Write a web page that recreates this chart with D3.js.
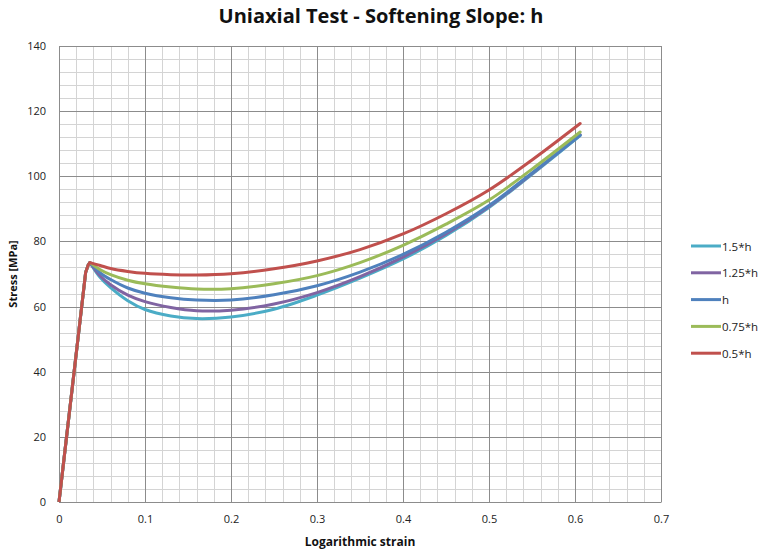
<!DOCTYPE html>
<html><head><meta charset="utf-8">
<script src="https://cdn.jsdelivr.net/npm/d3@7"></script>
<style>body{margin:0;background:#fff}svg{display:block}</style>
</head><body>
<svg id="c" width="765" height="555"></svg>
<script>
const seriesNames = ["1.5*h","1.25*h","h","0.75*h","0.5*h"];
const seriesColors = ["#4BACC6","#8064A2","#4F81BD","#9BBB59","#C0504D"];
const elasticStrain = [0, 0.031, 0.034, 0.036];
const elasticStress = [0, 70.5, 72.8, 73.5];
const strainPts    = [0.036, 0.048, 0.06, 0.08, 0.1, 0.13, 0.16, 0.2, 0.25, 0.3, 0.35, 0.4, 0.45, 0.5, 0.55, 0.606];
const stress_1_5h  = [73.5, 68.9, 65.8, 61.8, 59.1, 57.1, 56.3, 56.8, 59.2, 63.5, 68.7, 74.6, 81.8, 90.4, 100.6, 112.5];
const stress_1_25h = [73.5, 69.4, 66.7, 63.5, 61.5, 59.7, 58.7, 58.9, 60.8, 64.3, 69.2, 75.2, 82.3, 90.7, 100.8, 112.8];
const stress_h     = [73.5, 70.3, 68.3, 65.7, 64.1, 62.7, 62.0, 62.0, 63.6, 66.4, 70.6, 76.0, 82.8, 91.0, 101.0, 112.6];
const stress_075h  = [73.5, 71.3, 69.8, 68.1, 67.0, 66.0, 65.4, 65.5, 67.0, 69.5, 73.5, 78.8, 85.3, 92.7, 102.2, 113.6];
const stress_05h   = [73.5, 72.6, 71.7, 70.8, 70.2, 69.8, 69.7, 70.1, 71.6, 74.0, 77.5, 82.3, 88.5, 95.8, 105.0, 116.2];
const allStress = [stress_1_5h, stress_1_25h, stress_h, stress_075h, stress_05h];
const xTicks = [0,0.1,0.2,0.3,0.4,0.5,0.6,0.7];
const yTicks = [0,20,40,60,80,100,120,140];

const svg = d3.select("#c");
const L = 59, R = 661, T = 46, B = 502;
const x = d3.scaleLinear().domain([0,0.7]).range([L,R]);
const y = d3.scaleLinear().domain([0,140]).range([B,T]);

const g = svg.append("g");
g.selectAll(".vminor").data(d3.range(0,0.7001,0.02)).enter().append("line")
  .attr("x1",d=>Math.round(x(d))+0.5).attr("x2",d=>Math.round(x(d))+0.5).attr("y1",T).attr("y2",B)
  .attr("stroke","#d4d4d4").attr("stroke-width",1);
g.selectAll(".hminor").data(d3.range(0,140.001,4)).enter().append("line")
  .attr("y1",d=>Math.round(y(d))+0.5).attr("y2",d=>Math.round(y(d))+0.5).attr("x1",L).attr("x2",R)
  .attr("stroke","#d4d4d4").attr("stroke-width",1);
g.selectAll(".vmajor").data(xTicks).enter().append("line")
  .attr("x1",d=>Math.round(x(d))+0.5).attr("x2",d=>Math.round(x(d))+0.5).attr("y1",T).attr("y2",B)
  .attr("stroke","#8c8c8c").attr("stroke-width",1);
g.selectAll(".hmajor").data(yTicks).enter().append("line")
  .attr("y1",d=>Math.round(y(d))+0.5).attr("y2",d=>Math.round(y(d))+0.5).attr("x1",L).attr("x2",R)
  .attr("stroke","#8c8c8c").attr("stroke-width",1);

const xa = svg.append("g").attr("transform",`translate(0,${B})`)
  .call(d3.axisBottom(x).tickValues(xTicks).tickFormat(d=>String(+d.toFixed(1))).tickSize(0).tickPadding(13));
const ya = svg.append("g").attr("transform",`translate(${L},0)`)
  .call(d3.axisLeft(y).tickValues(yTicks).tickSize(0).tickPadding(13));
[xa,ya].forEach(a=>{a.select(".domain").attr("stroke","#8c8c8c");
  a.selectAll("text").attr("font-family","'Open Sans', sans-serif").attr("font-size","11px").attr("fill","#222");});

const lineLin = d3.line().x(d=>x(d[0])).y(d=>y(d[1]));
const lineSm = d3.line().x(d=>x(d[0])).y(d=>y(d[1])).curve(d3.curveCatmullRom.alpha(0.5));
allStress.forEach((s,i)=>{
  const el = elasticStrain.map((e,j)=>[e, elasticStress[j]]);
  const sp = strainPts.map((e,j)=>[e, s[j]]);
  svg.append("path").datum(sp).attr("d",lineSm).attr("fill","none")
    .attr("stroke",seriesColors[i]).attr("stroke-width",3).attr("stroke-linecap","round");
  svg.append("path").datum(el).attr("d",lineLin).attr("fill","none")
    .attr("stroke",seriesColors[i]).attr("stroke-width",3).attr("stroke-linejoin","round");
});

svg.append("text").attr("x",381).attr("y",23).attr("text-anchor","middle")
  .attr("font-family","'Open Sans',sans-serif").attr("font-weight","bold")
  .attr("font-size","20px").attr("fill","#111").text("Uniaxial Test - Softening Slope: h");
svg.append("text").attr("x",360).attr("y",546).attr("text-anchor","middle")
  .attr("font-family","'Open Sans',sans-serif").attr("font-weight","bold")
  .attr("font-size","12px").attr("fill","#111").text("Logarithmic strain");
svg.append("text").attr("transform","translate(17,274) rotate(-90)").attr("text-anchor","middle")
  .attr("font-family","'Open Sans',sans-serif").attr("font-weight","bold")
  .attr("font-size","11px").attr("fill","#111").text("Stress [MPa]");

const lg = svg.append("g");
seriesNames.forEach((n,i)=>{
  const yy = 246 + i*26.8;
  lg.append("line").attr("x1",691).attr("x2",721).attr("y1",yy).attr("y2",yy)
    .attr("stroke",seriesColors[i]).attr("stroke-width",3);
  lg.append("text").attr("x",722).attr("y",yy+4.5).attr("font-family","'Open Sans', sans-serif")
    .attr("font-size","11.5px").attr("fill","#222").text(n);
});
</script>
</body></html>
